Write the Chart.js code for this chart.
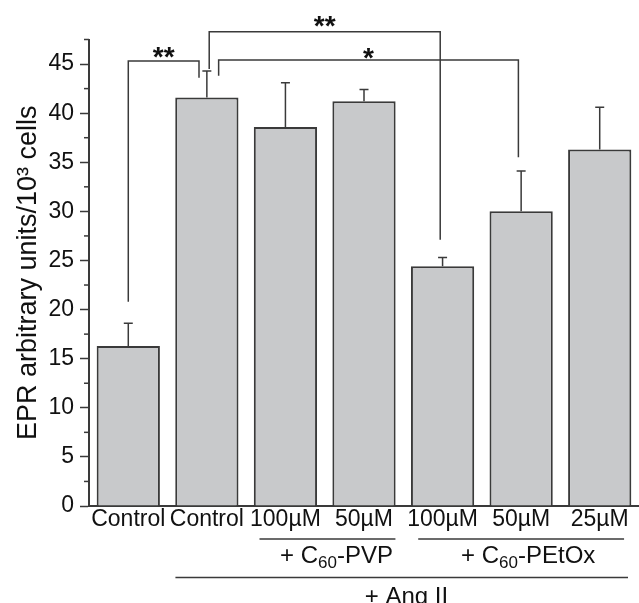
<!DOCTYPE html>
<html>
<head>
<meta charset="utf-8">
<script src="https://cdn.jsdelivr.net/npm/chart.js@4/dist/chart.umd.min.js"></script>
<style>
  html, body { margin: 0; padding: 0; background: #fff; }
</style>
</head>
<body>
<canvas id="chart" width="639" height="603"></canvas>
<script>
const categories = ['Control', 'Control', '100µM', '50µM', '100µM', '50µM', '25µM'];
const values = [16.3, 41.6, 38.6, 41.2, 24.4, 30.0, 36.3];
const errors = [2.3, 2.7, 4.5, 1.2, 0.9, 4.1, 4.3];
const yTicks = [0, 5, 10, 15, 20, 25, 30, 35, 40, 45];
const yMinor = [2.5, 7.5, 12.5, 17.5, 22.5, 27.5, 32.5, 37.5, 42.5, 47.5];

// significance brackets: bar index span, height and leg ends in data units
const brackets = [
  { from: 0, to: 0.9, top: 45.3, leftEnd: 20.8, rightEnd: 43.6, labelY: 46.3, label: '**' },
  { from: 1.03, to: 3.97, top: 48.3, leftEnd: 44.5, rightEnd: 27.1, labelY: 49.5, label: '**' },
  { from: 1.15, to: 4.965, top: 45.4, leftEnd: 43.8, rightEnd: 35.5, labelY: 46.2, label: '*' }
];

// treatment groups under the axis
const groups = [
  { from: 1.67, to: 3.4, at: 2.65, row: 0, text: ['+ C', '60', '-PVP'] },
  { from: 3.69, to: 6.31, at: 5.09, row: 0, text: ['+ C', '60', '-PEtOx'] },
  { from: 0.6, to: 6.36, at: 3.54, row: 1, text: ['+ Ang II'] }
];

const FONT = "'Liberation Sans', Arial, Helvetica, sans-serif";
const INK = '#3a3a3a';

const extras = {
  id: 'extras',
  afterDatasetsDraw(chart) {
    const ctx = chart.ctx;
    const x = chart.scales.x, y = chart.scales.y;
    ctx.save();
    ctx.strokeStyle = INK;
    ctx.lineWidth = 1.5;

    // error bars (upper only)
    values.forEach((v, i) => {
      const px = x.getPixelForValue(i);
      const y0 = y.getPixelForValue(v);
      const y1 = y.getPixelForValue(v + errors[i]);
      ctx.beginPath();
      ctx.moveTo(px, y0); ctx.lineTo(px, y1);
      ctx.moveTo(px - 4.5, y1); ctx.lineTo(px + 4.5, y1);
      ctx.stroke();
    });

    // minor ticks on y axis
    yMinor.forEach(v => {
      const py = y.getPixelForValue(v);
      ctx.beginPath();
      ctx.moveTo(y.right - 5, py); ctx.lineTo(y.right, py);
      ctx.stroke();
    });

    // brackets
    ctx.fillStyle = '#111';
    ctx.font = 'bold 28px ' + FONT;
    ctx.textAlign = 'center';
    ctx.textBaseline = 'middle';
    brackets.forEach(b => {
      const xl = x.getPixelForValue(b.from), xr = x.getPixelForValue(b.to);
      const yt = y.getPixelForValue(b.top);
      ctx.beginPath();
      ctx.moveTo(xl, y.getPixelForValue(b.leftEnd));
      ctx.lineTo(xl, yt);
      ctx.lineTo(xr, yt);
      ctx.lineTo(xr, y.getPixelForValue(b.rightEnd));
      ctx.stroke();
      ctx.fillText(b.label, (xl + xr) / 2, y.getPixelForValue(b.labelY) + 7);
    });

    // group lines and labels
    const lineY = [y.bottom + 33, y.bottom + 71.5];
    const textY = [y.bottom + 50, y.bottom + 91];
    groups.forEach(g => {
      const xl = x.getPixelForValue(g.from), xr = x.getPixelForValue(g.to);
      ctx.beginPath();
      ctx.moveTo(xl, lineY[g.row]); ctx.lineTo(xr, lineY[g.row]);
      ctx.stroke();
      const big = '24px ' + FONT, small = '17px ' + FONT;
      ctx.textAlign = 'left';
      ctx.textBaseline = 'middle';
      let widths = g.text.map((t, k) => { ctx.font = (k === 1 ? small : big); return ctx.measureText(t).width; });
      const total = widths.reduce((a, c) => a + c, 0);
      let cx = x.getPixelForValue(g.at) - total / 2;
      g.text.forEach((t, k) => {
        ctx.font = (k === 1 ? small : big);
        ctx.fillText(t, cx, textY[g.row] + (k === 1 ? 7 : 0));
        cx += widths[k];
      });
    });
    ctx.restore();
  }
};

new Chart(document.getElementById('chart').getContext('2d'), {
  type: 'bar',
  data: {
    labels: categories,
    datasets: [{
      data: values,
      backgroundColor: '#c8c9cb',
      borderColor: INK,
      borderWidth: 2,
      categoryPercentage: 1,
      barPercentage: 0.805
    }]
  },
  options: {
    responsive: false,
    animation: false,
    devicePixelRatio: 1,
    layout: { padding: { left: 12, top: 39.5, right: -3, bottom: 69.4 } },
    plugins: { legend: { display: false }, tooltip: { enabled: false } },
    scales: {
      x: {
        grid: { display: false, drawTicks: false },
        border: { display: true, color: INK, width: 2 },
        ticks: { color: '#111', font: { family: FONT, size: 23 }, padding: 0, maxRotation: 0, autoSkip: false }
      },
      y: {
        min: 0,
        max: 47.5,
        afterBuildTicks: s => { s.ticks = yTicks.map(v => ({ value: v })); },
        afterFit: s => { s.width = 77; },
        grid: { drawOnChartArea: false, drawTicks: true, tickLength: 9, tickColor: INK, tickWidth: 1.5 },
        border: { display: true, color: INK, width: 2 },
        ticks: { color: '#111', font: { family: FONT, size: 23 }, padding: 6 },
        title: {
          display: true,
          text: 'EPR arbitrary units/10³ cells',
          color: '#111',
          font: { family: FONT, size: 27 },
          padding: 0
        }
      }
    }
  },
  plugins: [extras]
});
</script>
</body>
</html>
